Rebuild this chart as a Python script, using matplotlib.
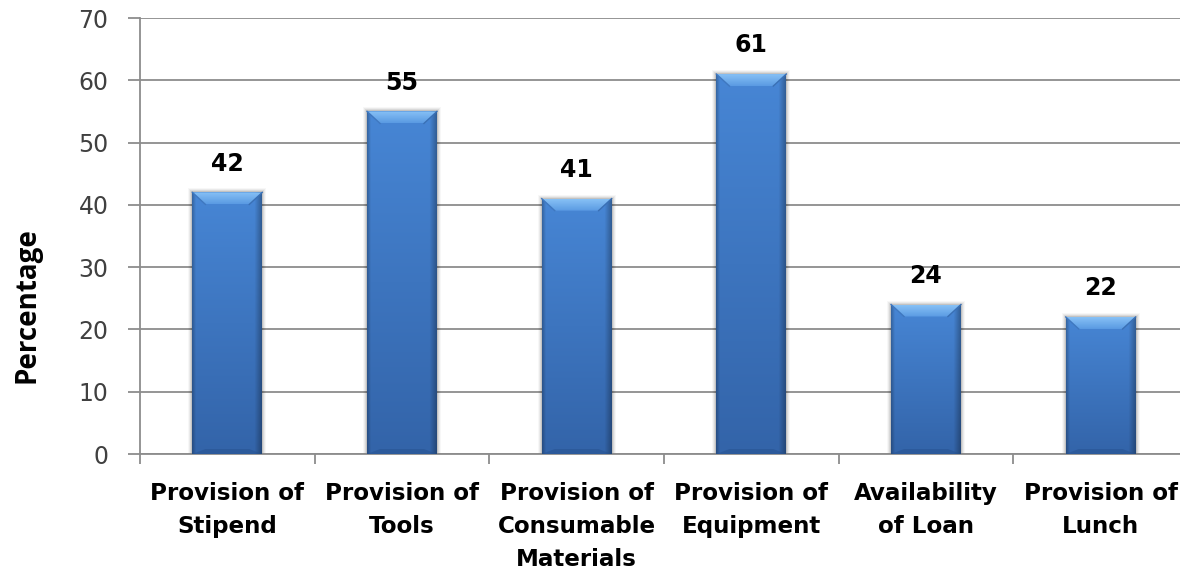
import matplotlib
matplotlib.use("Agg")
import matplotlib.pyplot as plt
import numpy as np
from matplotlib.patches import Polygon, Rectangle

categories = [
    "Provision of\nStipend",
    "Provision of\nTools",
    "Provision of\nConsumable\nMaterials",
    "Provision of\nEquipment",
    "Availability\nof Loan",
    "Provision of\nLunch",
]
percentages = [42, 55, 41, 61, 24, 22]
y_ticks = [0, 10, 20, 30, 40, 50, 60, 70]

BAR_WIDTH = 0.4
GRID = "#8c8c8c"
INK = "#000000"
TICK_INK = "#404040"

plt.rcParams["font.family"] = ["DejaVu Sans"]

W, H = 1180, 571
fig = plt.figure(figsize=(W / 100, H / 100), dpi=100)
fig.patch.set_facecolor("white")
# plot area runs off the right edge, as in the source figure
ax = fig.add_axes([140 / W, (H - 454) / H, 1048 / W, (454 - 18) / H])
ax.set_xlim(0, len(categories))
ax.set_ylim(0, 70)

x_px = 1048 / len(categories)   # pixels per category
y_px = 436 / 70                 # pixels per percentage point


def ramp(c0, c1, n):
    c0 = np.array(matplotlib.colors.to_rgb(c0))
    c1 = np.array(matplotlib.colors.to_rgb(c1))
    t = np.linspace(0, 1, n)[:, None]
    return c0 + (c1 - c0) * t


def body_image(ny=80, nx=60):
    # top-to-bottom darkening, with darker side edges (right side a bit more)
    vert = ramp("#4786d5", "#3364a9", ny)
    u = np.linspace(0, 1, nx)
    shade = np.ones(nx)
    shade -= 0.22 * np.clip(1 - u / 0.05, 0, 1)
    shade -= 0.28 * np.clip((u - 0.90) / 0.10, 0, 1)
    img = vert[:, None, :] * shade[None, :, None]
    return np.clip(img, 0, 1)


def bevel_image(ny=20):
    col = ramp("#86c0f5", "#5b9be3", ny)
    return np.repeat(col[:, None, :], 4, axis=1)


body = body_image()
bevel = bevel_image()

for i, val in enumerate(percentages):
    x0 = i + 0.5 - BAR_WIDTH / 2
    x1 = x0 + BAR_WIDTH
    bx = 13 / x_px
    by = 12 / y_px
    bb = 5 / y_px

    # soft shadow around the bar
    for k, a in [(4, 0.03), (3, 0.05), (2, 0.07), (1, 0.10)]:
        ax.add_patch(Rectangle((x0 - k / x_px, 0), BAR_WIDTH + 2 * k / x_px,
                               val + k / y_px, facecolor="black", alpha=a,
                               edgecolor="none", zorder=2))
    bar = ax.bar(i + 0.5, val, width=BAR_WIDTH, color="#3d77c4",
                 edgecolor="none", zorder=3)[0]
    im = ax.imshow(body, extent=(x0, x1, 0, val), aspect="auto",
                   interpolation="bilinear", zorder=4)
    im.set_clip_path(bar)

    # bevelled top face
    top = Polygon([(x0, val), (x1, val), (x1 - bx, val - by), (x0 + bx, val - by)],
                  closed=True, facecolor="none", edgecolor="none", zorder=5)
    ax.add_patch(top)
    tim = ax.imshow(bevel, extent=(x0, x1, val - by, val), aspect="auto",
                    interpolation="bilinear", zorder=5)
    tim.set_clip_path(top)
    # darker corner creases of the bevel
    ax.plot([x0, x0 + bx], [val, val - by], color="#3f78c0", lw=1.0, zorder=6)
    ax.plot([x1, x1 - bx], [val, val - by], color="#3a70b5", lw=1.0, zorder=6)

    # bottom bevel
    ax.add_patch(Polygon([(x0, 0), (x1, 0), (x1 - bx, bb), (x0 + bx, bb)],
                         closed=True, facecolor="#244f8c", alpha=0.45,
                         edgecolor="none", zorder=5))

    ax.text(i + 0.5, val + 2.7, str(val), ha="center", va="bottom",
            fontsize=17, fontweight="bold", color=INK, zorder=7)

ax.set_yticks(y_ticks)
ax.set_yticklabels([str(t) for t in y_ticks], fontsize=17, color=TICK_INK)
ax.yaxis.grid(True, color=GRID, linewidth=1.3)
ax.set_axisbelow(True)

ax.set_xticks(np.arange(len(categories) + 1))
ax.set_xticklabels([])
ax.set_xticks(np.arange(len(categories)) + 0.5, minor=True)
ax.set_xticklabels(categories, minor=True, fontsize=16.6, fontweight="bold",
                   color=INK, linespacing=1.55)
ax.tick_params(axis="x", which="major", length=7, width=1.3, color=GRID, direction="out")
ax.tick_params(axis="x", which="minor", length=0, pad=20)
ax.tick_params(axis="y", length=8.6, width=1.3, color=GRID, pad=14)

for name, spine in ax.spines.items():
    spine.set_visible(name in ("left", "bottom"))
    spine.set_color(GRID)
    spine.set_linewidth(1.3)

fig.text(27.5 / W, 1 - 305 / H, "Percentage", rotation=90, ha="center", va="center",
         fontsize=20, fontweight="bold", color=INK, family=["Open Sans", "DejaVu Sans"])

fig.savefig("out.png", dpi=100, facecolor="white")
